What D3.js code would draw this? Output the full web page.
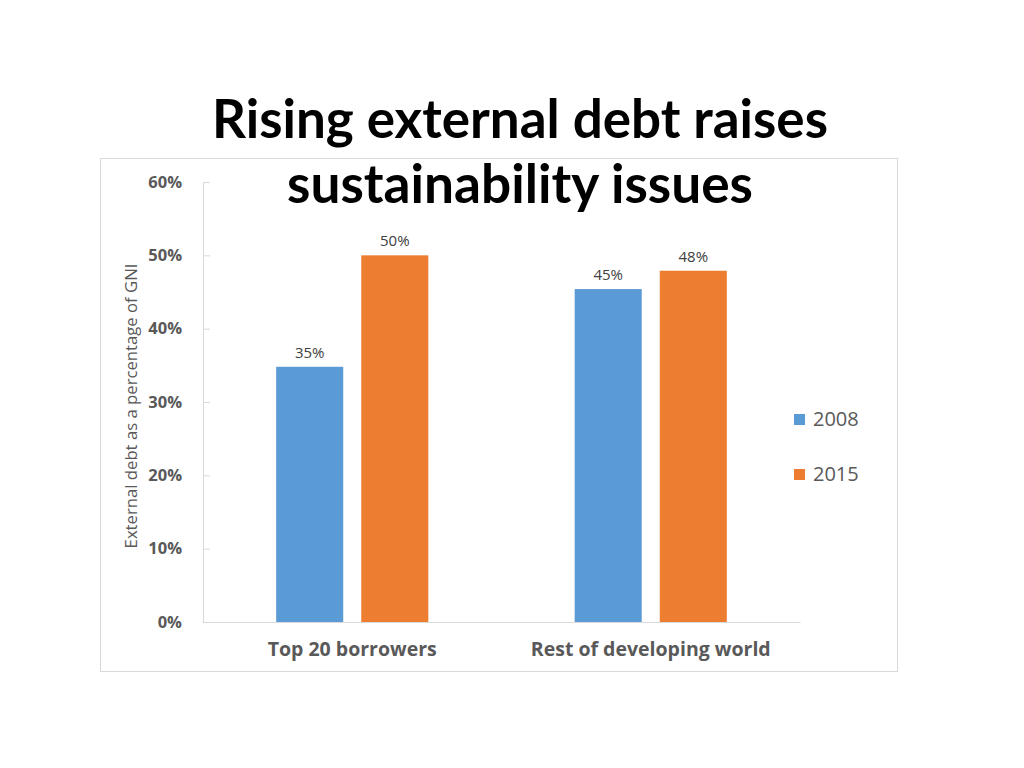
<!DOCTYPE html>
<html><head><meta charset="utf-8">
<script src="https://cdn.jsdelivr.net/npm/d3@7"></script>
<style>body{margin:0;background:#fff;}svg{display:block;}</style>
</head><body>
<svg id="c" width="1024" height="768"></svg>
<script>
const categories = ["Top 20 borrowers", "Rest of developing world"];
const seriesNames = ["2008", "2015"];
const values2008 = [34.8, 45.4];
const values2015 = [50.0, 47.9];
const yTicks = [0, 10, 20, 30, 40, 50, 60];
const colors = ["#5b9bd5", "#ed7d31"];
const titleLines = ["Rising external debt raises", "sustainability issues"];
const yLabel = "External debt as a percentage of GNI";

const svg = d3.select("#c");
svg.append("rect").attr("x",100.5).attr("y",158.5).attr("width",797).attr("height",513)
  .attr("fill","#fff").attr("stroke","#d9d9d9").attr("stroke-width",1);

const x0 = d3.scaleBand().domain(categories).range([203, 800]);
const x1 = d3.scaleBand().domain(seriesNames).range([0, x0.bandwidth()]).paddingInner(0.212).paddingOuter(0.86);
const y = d3.scaleLinear().domain([0, 60]).range([622, 182]);

const font = "'Open Sans', sans-serif";

const yAxis = svg.append("g").attr("transform","translate(203,0)")
  .call(d3.axisLeft(y).tickValues(yTicks).tickSize(-7).tickPadding(21).tickFormat(d => d + "%"));
yAxis.select(".domain").attr("stroke","#d9d9d9");
yAxis.selectAll(".tick line").attr("stroke","#d9d9d9");
yAxis.selectAll(".tick text").attr("fill","#595959").attr("font-family",font)
  .attr("font-weight","bold").attr("font-size",16.5);

const rows = categories.map((c,i) => ({cat:c, vals:[values2008[i], values2015[i]]}));
const groups = svg.selectAll("g.grp").data(rows).join("g").attr("class","grp")
  .attr("transform", d => `translate(${x0(d.cat)},0)`);
groups.selectAll("rect").data(d => d.vals.map((v,j)=>({s:seriesNames[j], v, j})))
  .join("rect")
  .attr("x", d => x1(d.s)).attr("width", x1.bandwidth())
  .attr("y", d => y(d.v)).attr("height", d => y(0) - y(d.v))
  .attr("fill", d => colors[d.j]);
groups.selectAll("text").data(d => d.vals.map((v,j)=>({s:seriesNames[j], v, j})))
  .join("text")
  .attr("x", d => x1(d.s) + x1.bandwidth()/2).attr("y", d => y(d.v) - 9)
  .attr("text-anchor","middle").attr("font-family",font).attr("font-size",15)
  .attr("fill","#404040").text(d => Math.round(d.v) + "%");

const xAxis = svg.append("g").attr("transform","translate(0,622)")
  .call(d3.axisBottom(x0).tickSize(0).tickPadding(20));
xAxis.select(".domain").attr("stroke","#d9d9d9");
xAxis.selectAll(".tick text").attr("fill","#595959").attr("font-family",font)
  .attr("font-weight","bold").attr("font-size",19.5);

svg.append("text").attr("transform","translate(137,406) rotate(-90)")
  .attr("text-anchor","middle").attr("font-family",font).attr("font-size",16.7)
  .attr("fill","#595959").text(yLabel);

const leg = svg.selectAll("g.leg").data(seriesNames).join("g").attr("class","leg")
  .attr("transform", (d,i) => `translate(794,${414 + i*55})`);
leg.append("rect").attr("width",11).attr("height",11).attr("fill",(d,i)=>colors[i]);
leg.append("text").attr("x",19).attr("y",12).attr("font-family",font).attr("font-size",20)
  .attr("fill","#595959").text(d => d);

const tw = [616, 466];
titleLines.forEach((t,i) => {
  const el = svg.append("text").attr("x",520).attr("y", 138 + i*65)
    .attr("text-anchor","middle").attr("font-family","Lato, 'Open Sans', sans-serif")
    .attr("font-weight","bold").attr("font-size",46).attr("fill","#000").text(t);
  const w = el.node().getComputedTextLength();
  el.attr("font-size", 46 * tw[i] / w);
});
</script>
</body></html>
